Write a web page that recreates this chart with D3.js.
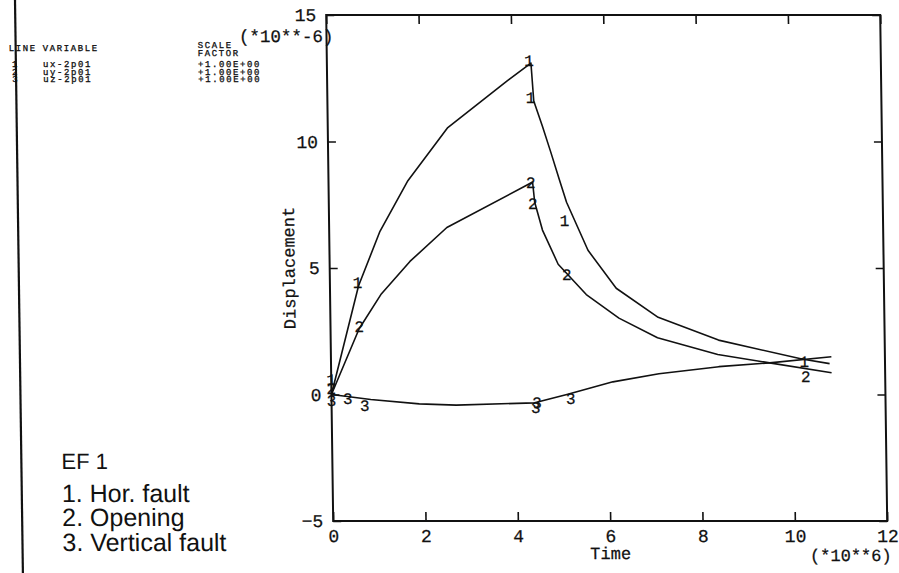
<!DOCTYPE html>
<html>
<head>
<meta charset="utf-8">
<script src="https://cdn.jsdelivr.net/npm/d3@7"></script>
<style>
  html, body { margin: 0; padding: 0; background: #fff; }
  svg { display: block; }
  .mono { font-family: "Liberation Mono", "DejaVu Sans Mono", monospace; fill: #111; }
  .note { font-family: "Liberation Sans", Arial, sans-serif; fill: #111; }
</style>
</head>
<body>
<svg id="chart" width="899" height="573"></svg>
<script>
// Displacement histories (units of 1e-6) against time (units of 1e6)
const uxTime = [0, 0.62, 1.1, 1.72, 2.6, 3.9, 4.42, 4.47, 4.65, 4.82, 5.0, 5.15, 5.6, 6.2, 7.1, 8.4, 10.2, 10.8];
const uxDisp = [0, 4.3, 6.45, 8.45, 10.55, 12.4, 13.1, 11.6, 10.6, 9.6, 8.5, 7.6, 5.7, 4.2, 3.05, 2.15, 1.4, 1.22];

const uyTime = [0, 0.62, 1.1, 1.74, 2.55, 4.3, 4.42, 4.46, 4.62, 4.95, 5.55, 6.25, 7.08, 8.38, 9.5, 10.84];
const uyDisp = [0, 2.6, 3.95, 5.26, 6.6, 8.28, 8.4, 7.6, 6.5, 5.15, 3.95, 3.02, 2.24, 1.58, 1.25, 0.86];

const uzTime = [0, 0.3, 0.85, 1.9, 2.7, 4.4, 5.1, 6.1, 7.1, 8.4, 9.5, 10.84];
const uzDisp = [0, -0.07, -0.2, -0.37, -0.42, -0.33, 0, 0.5, 0.82, 1.1, 1.25, 1.49];

// Curve identifier labels written along each line: [line id, time, displacement]
const curveLabels = [
  ["1", 0.0, 0.6], ["1", 0.6, 4.45], ["1", 4.38, 13.2], ["1", 4.4, 11.75], ["1", 5.1, 6.9], ["1", 10.25, 1.3],
  ["2", 0.0, 0.25], ["2", 0.62, 2.7], ["2", 4.38, 8.4], ["2", 4.42, 7.55], ["2", 5.13, 4.75], ["2", 10.28, 0.72],
  ["3", 0.0, -0.25], ["3", 0.35, -0.15], ["3", 0.72, -0.45], ["3", 4.42, -0.5], ["3", 4.45, -0.3], ["3", 5.18, -0.15]
];

// Axis ticks
const xTicks = [0, 2, 4, 6, 8, 10, 12];
const yTicks = [-5, 0, 5, 10, 15];

// Variable table and notes
const lineIds = ["1", "2", "3"];
const variables = ["ux-2p01", "uy-2p01", "uz-2p01"];
const scaleFactors = ["+1.00E+00", "+1.00E+00", "+1.00E+00"];
const notes = ["EF 1", "1. Hor. fault", "2. Opening", "3. Vertical fault"];

const svg = d3.select("#chart");
svg.append("rect").attr("width", 899).attr("height", 573).attr("fill", "#fff");

// the whole sheet leans slightly
const page = svg.append("g").attr("transform", "skewX(0.79)");

const x = d3.scaleLinear().domain([0, 12]).range([326, 880]);
const y = d3.scaleLinear().domain([-5, 15]).range([521, 15]);

// left border of the sheet
page.append("line").attr("x1", 15).attr("x2", 15).attr("y1", 0).attr("y2", 573)
  .attr("stroke", "#111").attr("stroke-width", 2.2);

// plotter-style lettering: monospace with a slight outline for weight
const plotText = sel => sel.attr("class", "mono").attr("stroke", "#111").attr("stroke-width", 0.25);

// axes with inward ticks
const axLeft = page.append("g").attr("transform", `translate(${x(0)},0)`)
  .call(d3.axisLeft(y).tickValues(yTicks).tickSize(-8).tickPadding(10).tickFormat(d3.format("d")));
const axRight = page.append("g").attr("transform", `translate(${x(12)},0)`)
  .call(d3.axisRight(y).tickValues(yTicks).tickSize(-8).tickFormat(""));
const axBottom = page.append("g").attr("transform", `translate(0,${y(-5)})`)
  .call(d3.axisBottom(x).tickValues(xTicks).tickSize(-9).tickPadding(8).tickFormat(d3.format("d")));
const axTop = page.append("g").attr("transform", `translate(0,${y(15)})`)
  .call(d3.axisTop(x).tickValues(xTicks).tickSize(-9).tickFormat(""));
[axLeft, axRight, axBottom, axTop].forEach(g => {
  g.select(".domain").remove();
  g.selectAll("line").attr("stroke", "#111").attr("stroke-width", 1.6);
  g.selectAll("text").call(plotText).attr("font-size", 18).attr("fill", "#111");
});

// frame
page.append("rect")
  .attr("x", x(0)).attr("y", y(15))
  .attr("width", x(12) - x(0)).attr("height", y(-5) - y(15))
  .attr("fill", "none").attr("stroke", "#111").attr("stroke-width", 2);

// axis titles and exponent notes
page.append("text").call(plotText).attr("font-size", 17)
  .attr("transform", `translate(291,${(y(15) + y(-5)) / 2}) rotate(-90)`)
  .attr("text-anchor", "middle").text("Displacement");
page.append("text").call(plotText).attr("font-size", 17)
  .attr("x", x(6)).attr("y", 559).attr("text-anchor", "middle").text("Time");
page.append("text").call(plotText).attr("font-size", 17)
  .attr("x", 884).attr("y", 561).attr("text-anchor", "end").text("(*10**6)");
page.append("text").call(plotText).attr("font-size", 17.5)
  .attr("x", 333).attr("y", 42).attr("text-anchor", "end").text("(*10**-6)");

// curves
const line = d3.line().x(d => x(d[0])).y(d => y(d[1]));
const series = [
  d3.zip(uxTime, uxDisp),
  d3.zip(uyTime, uyDisp),
  d3.zip(uzTime, uzDisp)
];
page.selectAll("path.curve").data(series).join("path")
  .attr("class", "curve")
  .attr("d", line)
  .attr("fill", "none").attr("stroke", "#111").attr("stroke-width", 1.6)
  .attr("stroke-linejoin", "round");

page.selectAll("text.cl").data(curveLabels).join("text")
  .call(plotText).classed("cl", true).attr("font-size", 16)
  .attr("x", d => x(d[1])).attr("y", d => y(d[2]))
  .attr("dy", "0.35em").attr("text-anchor", "middle")
  .text(d => d[0]);

// variable table
const tbl = page.append("g").attr("class", "mono").attr("font-size", 9)
  .attr("letter-spacing", 1.6).attr("stroke", "#111").attr("stroke-width", 0.3);
tbl.append("text").attr("x", 8).attr("y", 51).text("LINE");
tbl.append("text").attr("x", 42).attr("y", 51).text("VARIABLE");
tbl.append("text").attr("x", 197).attr("y", 48).text("SCALE");
tbl.append("text").attr("x", 197).attr("y", 56).text("FACTOR");
lineIds.forEach((id, i) => {
  const by = 67.5 + i * 7.5;
  tbl.append("text").attr("x", 11).attr("y", by).text(id);
  tbl.append("text").attr("x", 42).attr("y", by).text(variables[i]);
  tbl.append("text").attr("x", 197).attr("y", by).text(scaleFactors[i]);
});

// notes
const noteY = [469, 502, 526, 551];
notes.forEach((t, i) => {
  page.append("text").attr("class", "note").attr("font-size", i === 0 ? 22 : 25)
    .attr("x", 55).attr("y", noteY[i]).text(t);
});
</script>
</body>
</html>
